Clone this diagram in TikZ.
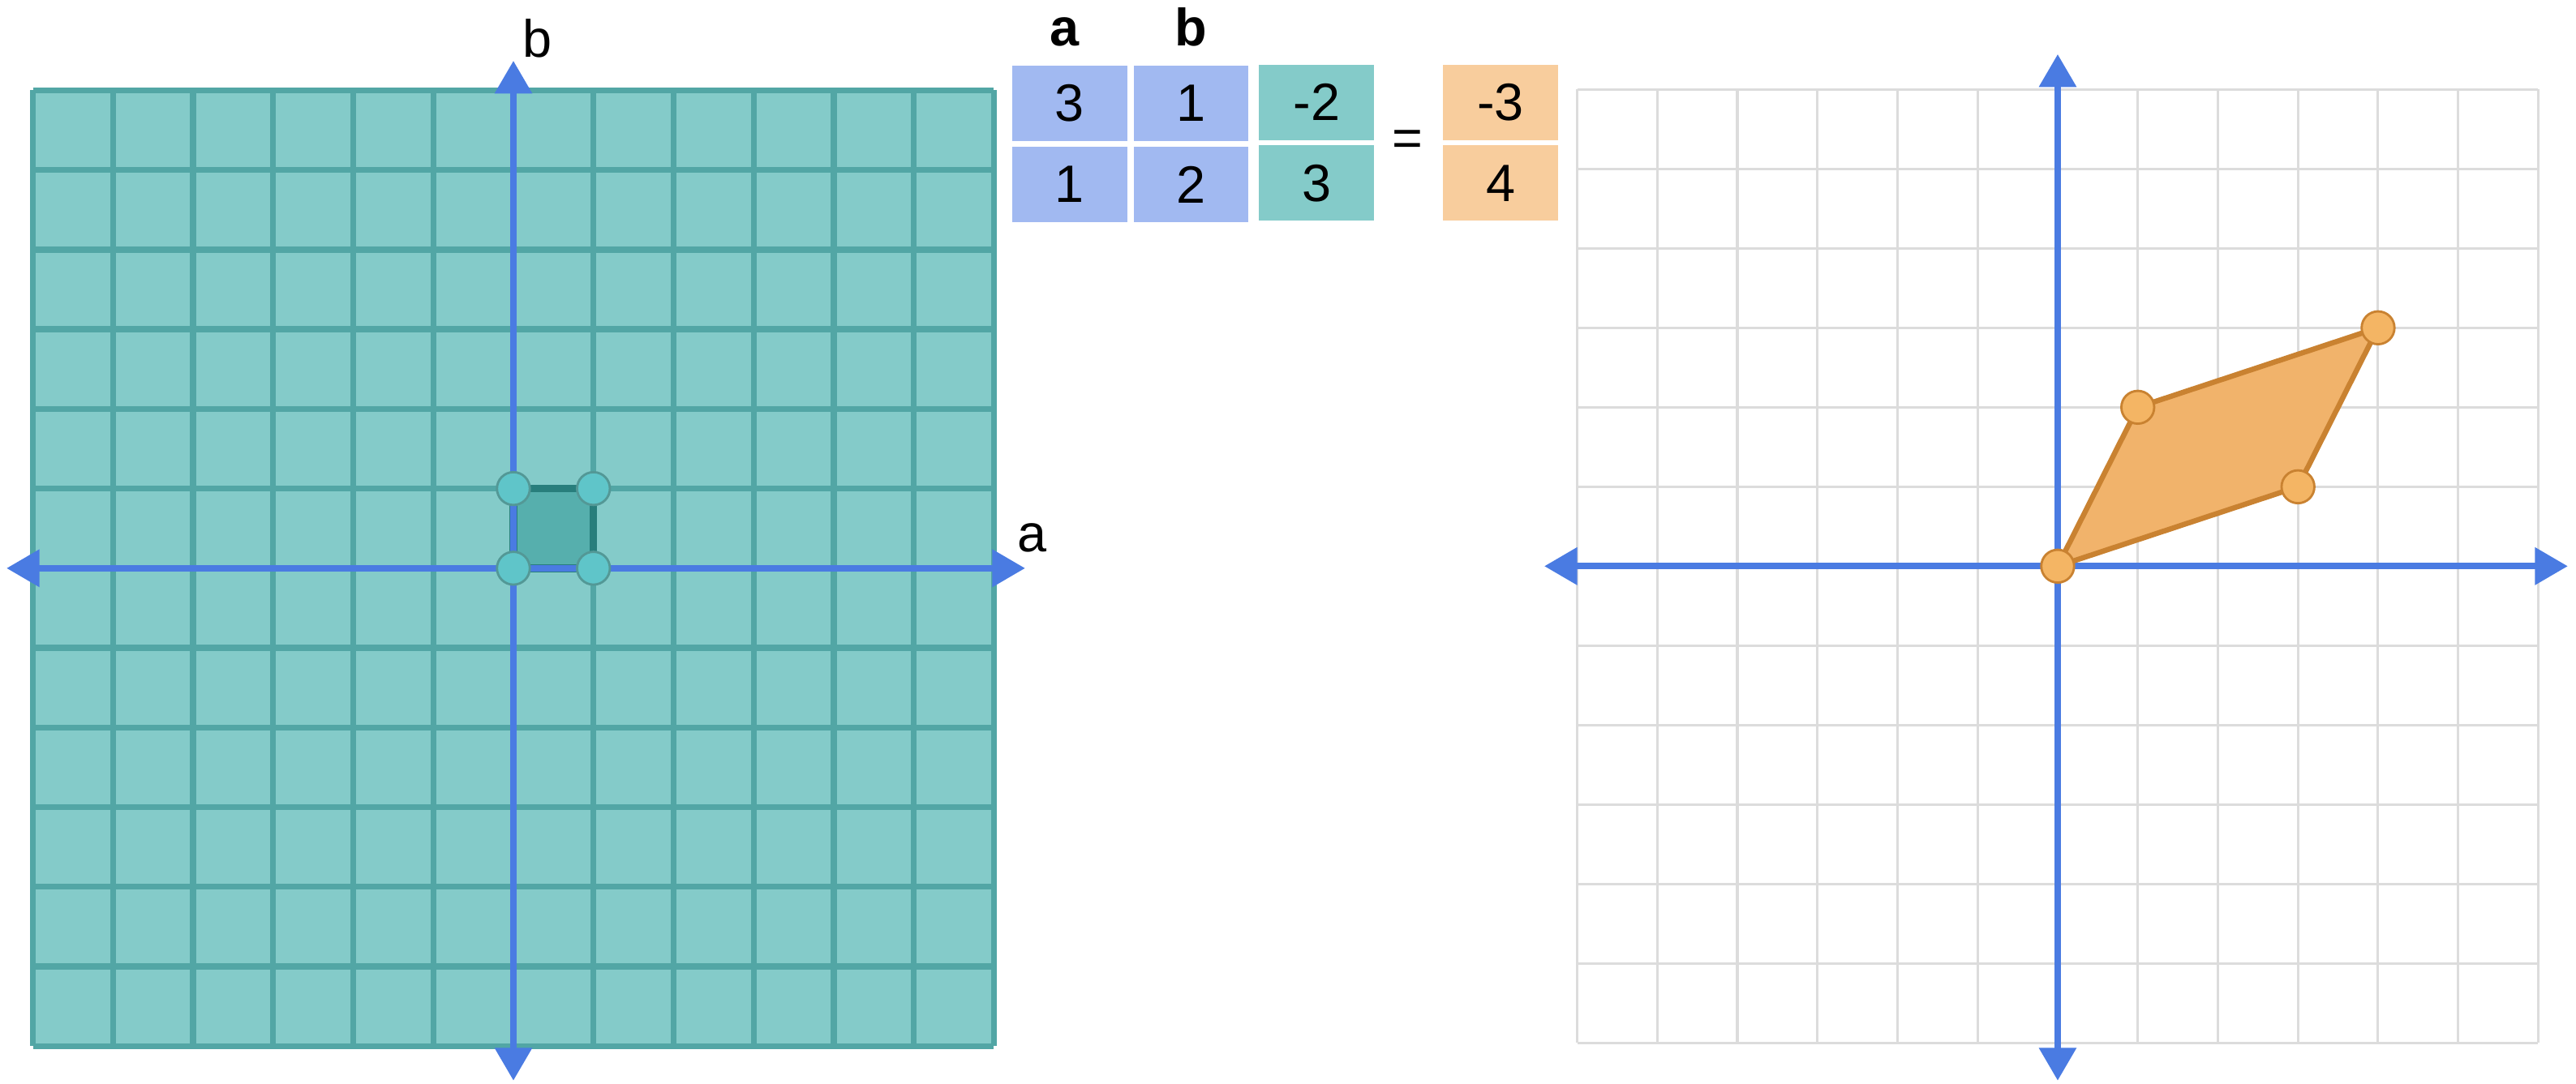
\documentclass[tikz,border=0pt]{standalone}
\usepackage{fontspec}
\setmainfont{Liberation Sans}
\usetikzlibrary{arrows.meta}
\definecolor{tealfill}{HTML}{84CBC9}
\definecolor{tealline}{HTML}{52A6A5}
\definecolor{tealdark}{HTML}{287E7C}
\definecolor{tealsq}{HTML}{56AFAD}
\definecolor{tealdot}{HTML}{5FC5C9}
\definecolor{axisblue}{HTML}{4A7BE2}
\definecolor{cellblue}{HTML}{A1B9F1}
\definecolor{cellorange}{HTML}{F8CD9D}
\definecolor{parafill}{HTML}{F1B36B}
\definecolor{paraline}{HTML}{C98231}
\definecolor{dotorange}{HTML}{F4B564}
\definecolor{gridgray}{HTML}{DCDCDC}
\tikzset{
  lbl/.style={font=\fontsize{16}{19}\selectfont, inner sep=0pt},
  hdr/.style={font=\fontsize{16}{19}\selectfont\bfseries, inner sep=0pt, anchor=base},
  cell/.style={lbl, minimum width=35pt, minimum height=23pt},
  axisline/.style={draw=axisblue, line width=2pt, {Triangle[length=10pt,width=11pt]}-{Triangle[length=10pt,width=11pt]}},
  tgrid/.style={draw=tealline, line width=1.8pt},
  ggrid/.style={draw=gridgray, line width=0.75pt},
  tdot/.style={circle, fill=tealdot, draw=tealdark!80, line width=0.7pt, minimum size=10pt, inner sep=0pt},
  odot/.style={circle, fill=dotorange, draw=paraline, line width=0.7pt, minimum size=10pt, inner sep=0pt}
}
\begin{document}
\begin{tikzpicture}[x=0.5pt,y=-0.5pt]
\useasboundingbox (0,0) rectangle (1568,659.6);
% ---------- left grid ----------
\fill[tealfill] (20,55) rectangle (605,637);
\foreach \i in {0,...,12} {
  \draw[tgrid] ({20+48.75*\i},55) -- ({20+48.75*\i},637);
  \draw[tgrid] (20,{55+48.5*\i}) -- (605,{55+48.5*\i});
}
\coordinate (O1) at (312.5,346);
\coordinate (P1) at (361.25,346);
\coordinate (Q1) at (312.5,297.5);
\coordinate (R1) at (361.25,297.5);
\filldraw[fill=tealsq, draw=tealdark, line width=2.3pt] (O1) -- (P1) -- (R1) -- (Q1) -- cycle;
\coordinate (aL) at (4,346);
\coordinate (aR) at (624,346);
\coordinate (bB) at (312.5,658);
\coordinate (bT) at (312.5,37);
\draw[axisline] (aL) -- (aR);
\draw[axisline] (bB) -- (bT);
\node[tdot] (d1) at (O1) {};
\node[tdot] (d2) at (P1) {};
\node[tdot] (d3) at (Q1) {};
\node[tdot] (d4) at (R1) {};
\node[lbl, anchor=base] (la) at (628,336) {a};
\node[lbl, anchor=base] (lb) at (327,35) {b};
% ---------- matrix ----------
\node[hdr] (ha) at (648,28) {a};
\node[hdr] (hb) at (725,28) {b};
\node[cell, fill=cellblue] (m11) at (651,63) {3};
\node[cell, fill=cellblue] (m12) at (725,63) {1};
\node[cell, fill=cellblue] (m21) at (651,112.4) {1};
\node[cell, fill=cellblue] (m22) at (725,112.4) {2};
\node[cell, fill=tealfill] (v1) at (801.4,62.3) {-2};
\node[cell, fill=tealfill] (v2) at (801.4,111.5) {3};
\node[lbl] (eq) at (857,87) {=};
\node[cell, fill=cellorange] (r1) at (913.4,62.3) {-3};
\node[cell, fill=cellorange] (r2) at (913.4,111.5) {4};
% ---------- right grid ----------
\foreach \i in {0,...,12} {
  \draw[ggrid] ({960+48.75*\i},54.5) -- ({960+48.75*\i},635);
  \draw[ggrid] (960,{54.5+48.375*\i}) -- (1545,{54.5+48.375*\i});
}
\coordinate (O2) at (1252.5,344.75);
\coordinate (A2) at (1301.25,248);
\coordinate (C2) at (1447.5,199.6);
\coordinate (B2) at (1398.75,296.4);
\coordinate (xL) at (940,344.75);
\coordinate (xR) at (1563,344.75);
\coordinate (yB) at (1252.5,658);
\coordinate (yT) at (1252.5,33);
\draw[axisline] (xL) -- (xR);
\draw[axisline] (yB) -- (yT);
\filldraw[fill=parafill, draw=paraline, line width=1.6pt, line join=round] (O2) -- (A2) -- (C2) -- (B2) -- cycle;
\node[odot] (e0) at (O2) {};
\node[odot] (e1) at (A2) {};
\node[odot] (e2) at (C2) {};
\node[odot] (e3) at (B2) {};
\end{tikzpicture}
\end{document}
